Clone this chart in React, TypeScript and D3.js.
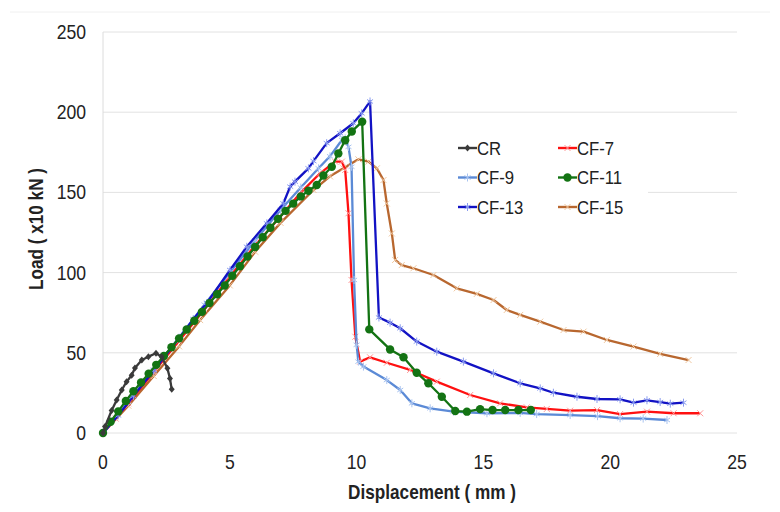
import { useRef, useEffect } from "react";
import * as d3 from "d3";

// displacement (mm), load (x10 kN) pairs
const cr = [
  [0, 0], [0.08, 4], [0.34, 14], [0.54, 20.6], [0.74, 26.8], [0.93, 32],
  [1.13, 36], [1.26, 40.5], [1.53, 45.5], [1.79, 47.6], [2.09, 49.7],
  [2.31, 47.6], [2.54, 40.3], [2.64, 34], [2.71, 27.2],
];

const cf7 = [
  [0, 0], [0.5, 9], [1, 18.5], [2, 38], [3, 57.5], [4, 77], [5, 97.5],
  [6, 117], [7, 135], [7.77, 149.4], [8.56, 161.9], [9.15, 169.2],
  [9.42, 169.2], [9.55, 164], [9.68, 137], [9.8, 95.4], [9.95, 60],
  [10.14, 44.5], [10.53, 47.2], [11.19, 43.8], [12.11, 39.3], [13.16, 32],
  [14.48, 23.7], [15.66, 18.5], [16.71, 16], [17.5, 15], [18.42, 13.9],
  [19.48, 14.3], [20.39, 11.8], [21.45, 13.3], [22.5, 12.3], [23.55, 12.3],
];

const cf9 = [
  [0, 0], [1, 19.5], [2, 39.5], [3, 59.5], [4, 80], [5, 100], [6, 120],
  [7, 139], [7.8, 153], [8.5, 165], [8.95, 172.5], [9.42, 182.7],
  [9.55, 183.7], [9.68, 178.4], [9.8, 166], [9.9, 95.4], [10.0, 55],
  [10.07, 44.5], [10.27, 41.4], [11.19, 33], [11.72, 26.8], [12.18, 18.5],
  [12.9, 15.4], [13.82, 13.3], [15.14, 12.3], [16.45, 12.5], [17.1, 11.8],
  [18.42, 11.2], [19.5, 10.5], [20.39, 9.2], [21.3, 9], [22.24, 8.1],
];

const cf11 = [
  [0, 0], [0.3, 7], [0.6, 13.5], [0.9, 20], [1.2, 26], [1.5, 31.5],
  [1.8, 37], [2.1, 42.5], [2.4, 48], [2.7, 53.5], [3.0, 59], [3.3, 64.5],
  [3.6, 70], [3.9, 75.5], [4.2, 81], [4.5, 86.5], [4.8, 92], [5.1, 98],
  [5.4, 104], [5.7, 110], [6.0, 116], [6.3, 122], [6.6, 128], [6.9, 133.5],
  [7.2, 138.5], [7.5, 143], [7.8, 147.5], [8.1, 151], [8.43, 154.6],
  [8.69, 160.5], [9.02, 166], [9.28, 174.3], [9.55, 182.5], [9.81, 188],
  [10.22, 194.1], [10.5, 64.6], [11.32, 52.1], [11.85, 47.2], [12.37, 37.6],
  [12.83, 31], [13.36, 22.6], [13.89, 13.7], [14.35, 13.3], [14.87, 14.9],
  [15.36, 14.3], [15.86, 14.3], [16.38, 14.3], [16.87, 14.3],
];

const cf13 = [
  [0, 0], [0.6, 11], [1.2, 23], [2, 39], [3, 59], [3.56, 71], [4.09, 81],
  [5.01, 101.6], [5.67, 116.1], [6.46, 130.7], [7.11, 143.1], [7.38, 153.6],
  [7.57, 156.7], [8.1, 165], [8.3, 169.5], [8.82, 180.7], [9.35, 186.9],
  [9.87, 193.1], [10.2, 199.3], [10.53, 206.7], [10.88, 72], [11.32, 68.8],
  [11.72, 65.3], [12.37, 57], [13.16, 50.7], [14.21, 44.5], [15.4, 37.2],
  [16.45, 31], [17.24, 27.8], [17.76, 25.1], [18.69, 22.6], [19.48, 21.2],
  [20.39, 21], [20.92, 18.9], [21.45, 20.4], [21.97, 19.3], [22.37, 18.3],
  [22.89, 18.9],
];

const cf15 = [
  [0, 0], [1, 17], [2, 35.5], [3, 54], [3.83, 70.4], [5, 92], [6, 113],
  [7, 131], [8.3, 151.5], [8.95, 160], [9.48, 165], [10.07, 170.6],
  [10.47, 169.2], [10.8, 165], [11.06, 157.7], [11.19, 143.1],
  [11.39, 124.4], [11.52, 107.9], [11.78, 104.7], [12.24, 102.7],
  [13.03, 98.5], [13.95, 90.2], [14.74, 86.7], [15.4, 82.9], [15.92, 76.7],
  [16.45, 73.6], [17.24, 69.4], [18.16, 64.2], [18.95, 63.2], [19.87, 58],
  [20.92, 53.9], [21.97, 49.3], [23.09, 45.5],
];

const xTicks = [0, 5, 10, 15, 20, 25];
const yTicks = [0, 50, 100, 150, 200, 250];

const series = [
  { name: "CR", data: cr, color: "#3a3a3a", marker: "diamond", mcolor: "#3a3a3a" },
  { name: "CF-7", data: cf7, color: "#ff1010", marker: "x", mcolor: "#ff9a9a" },
  { name: "CF-9", data: cf9, color: "#5b8ad6", marker: "star", mcolor: "#a9c4f0" },
  { name: "CF-11", data: cf11, color: "#137313", marker: "circle", mcolor: "#137313" },
  { name: "CF-13", data: cf13, color: "#1212c4", marker: "star", mcolor: "#8a9cf0" },
  { name: "CF-15", data: cf15, color: "#b8672f", marker: "x", mcolor: "#f0c8a0" },
];

const drawOrder = ["CF-15", "CF-7", "CF-9", "CF-13", "CF-11", "CR"];

const font = "'Liberation Sans', Arial, sans-serif";

function LoadChart() {
  const svgRef = useRef(null);

  useEffect(() => {
    const svg = d3.select(svgRef.current);
    svg.selectAll("*").remove();

    const x = d3.scaleLinear().domain([0, 25]).range([103, 737]);
    const y = d3.scaleLinear().domain([0, 250]).range([433, 32]);

    svg.append("rect").attr("width", 780).attr("height", 512).attr("fill", "#fff");
    svg.append("line")
      .attr("x1", 10).attr("x2", 770).attr("y1", 12).attr("y2", 12)
      .attr("stroke", "#f0f0f0");

    // grid
    svg.append("g")
      .selectAll("line")
      .data(yTicks)
      .join("line")
      .attr("x1", x(0)).attr("x2", x(25))
      .attr("y1", (d) => y(d)).attr("y2", (d) => y(d))
      .attr("stroke", "#e2e2e2")
      .attr("stroke-width", 1);
    svg.append("line")
      .attr("x1", x(0)).attr("x2", x(0))
      .attr("y1", y(0)).attr("y2", y(250))
      .attr("stroke", "#dcdcdc");

    const txt = (g, px, py, s, anchor, opts = {}) => {
      g.append("g")
        .attr("transform", `translate(${px},${py}) ${opts.rotate ? "rotate(-90)" : ""} scale(0.88,1)`)
        .append("text")
        .attr("text-anchor", anchor)
        .attr("font-family", font)
        .attr("font-size", opts.size || 20)
        .attr("font-weight", opts.bold ? "bold" : "normal")
        .attr("fill", "#222")
        .text(s);
    };

    yTicks.forEach((t) => txt(svg, 86, y(t) + 7, String(t), "end"));
    xTicks.forEach((t) => txt(svg, x(t), 469, String(t), "middle"));
    txt(svg, 432, 499, "Displacement ( mm )", "middle", { bold: true, size: 19.5 });
    txt(svg, 43, 229, "Load ( x10 kN )", "middle", { bold: true, rotate: true, size: 19.5 });

    const line = d3.line().x((d) => x(d[0])).y((d) => y(d[1]));

    const drawMarker = (g, s, px, py) => {
      if (s.marker === "circle") {
        g.append("circle").attr("cx", px).attr("cy", py).attr("r", 4.2).attr("fill", s.mcolor);
      } else if (s.marker === "diamond") {
        g.append("path")
          .attr("d", `M${px},${py - 3.5}L${px + 3},${py}L${px},${py + 3.5}L${px - 3},${py}Z`)
          .attr("fill", s.mcolor);
      } else if (s.marker === "x") {
        g.append("path")
          .attr("d", `M${px - 3},${py - 3}L${px + 3},${py + 3}M${px - 3},${py + 3}L${px + 3},${py - 3}`)
          .attr("stroke", s.mcolor).attr("stroke-width", 1);
      } else {
        g.append("path")
          .attr("d", `M${px},${py - 4}V${py + 4}M${px - 3},${py - 2}L${px + 3},${py + 2}M${px - 3},${py + 2}L${px + 3},${py - 2}`)
          .attr("stroke", s.mcolor).attr("stroke-width", 1);
      }
    };

    drawOrder.forEach((name) => {
      const s = series.find((d) => d.name === name);
      const g = svg.append("g");
      g.append("path")
        .datum(s.data)
        .attr("fill", "none")
        .attr("stroke", s.color)
        .attr("stroke-width", 2.3)
        .attr("stroke-linejoin", "round")
        .attr("d", line);
      s.data.forEach((d) => drawMarker(g, s, x(d[0]), y(d[1])));
    });

    // legend
    const lg = svg.append("g");
    lg.append("rect")
      .attr("x", 440).attr("y", 128).attr("width", 208).attr("height", 97)
      .attr("fill", "#fff");
    series.forEach((s, i) => {
      const col = i % 2;
      const row = Math.floor(i / 2);
      const lx = col === 0 ? 458 : 558;
      const ly = 148 + row * 29.5;
      lg.append("line")
        .attr("x1", lx).attr("x2", lx + 19).attr("y1", ly).attr("y2", ly)
        .attr("stroke", s.color).attr("stroke-width", 2.4);
      drawMarker(lg, s, lx + 9.5, ly);
      txt(lg, lx + 19, ly + 6.5, s.name, "start", { size: 19 });
    });
  }, []);

  return (
    <svg
      ref={svgRef}
      width={780}
      height={512}
      style={{ position: "absolute", left: 0, top: 0 }}
    ></svg>
  );
}

export default function App() {
  return <LoadChart />;
}
